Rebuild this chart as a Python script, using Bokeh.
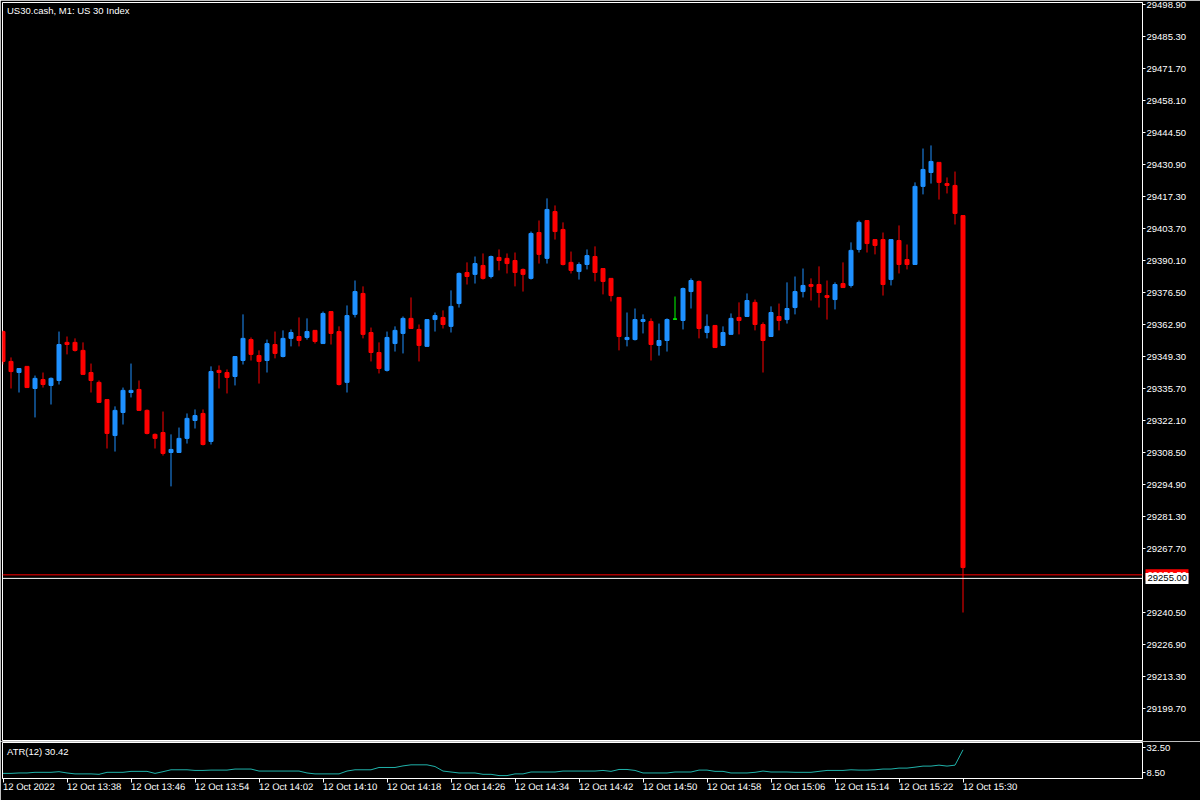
import numpy as np
import pandas as pd
from bokeh.plotting import figure
from bokeh.layouts import column
from bokeh.models import (Range1d, FixedTicker, PrintfTickFormatter, CustomJSTickFormatter,
                          Label, ColumnDataSource, Span)
from bokeh.core.properties import value
from bokeh.embed import file_html
from bokeh.resources import INLINE

# ---------------- data (US30.cash, M1, 12 Oct 2022 13:30 - 15:30) ----------------
opens = [29359.9, 29347.2, 29342.5, 29345.1, 29335.7, 29339.5, 29337.0, 29339.1, 29355.3, 29355.3,
         29351.9, 29342.5, 29338.3, 29331.0, 29315.7, 29325.5, 29334.0, 29335.3, 29326.4, 29316.2,
         29317.0, 29308.5, 29308.5, 29314.5, 29322.1, 29325.1, 29313.2, 29343.4, 29342.5, 29340.8,
         29347.6, 29356.5, 29349.7, 29347.6, 29354.4, 29349.3, 29357.0, 29357.8, 29357.4, 29360.4,
         29354.8, 29368.4, 29359.9, 29338.3, 29367.2, 29376.1, 29359.5, 29351.0, 29343.4, 29354.8,
         29359.1, 29365.5, 29360.8, 29353.6, 29365.0, 29365.9, 29362.1, 29371.8, 29385.0, 29384.2,
         29388.0, 29383.3, 29391.4, 29391.0, 29390.1, 29386.3, 29382.5, 29402.0, 29391.0, 29410.9,
         29403.3, 29389.3, 29385.4, 29388.4, 29391.8, 29386.7, 29382.5, 29374.4, 29356.5, 29356.5,
         29364.2, 29364.2, 29354.0, 29356.1, 29365.2, 29364.6, 29376.9, 29381.2, 29359.5, 29362.5,
         29354.0, 29358.7, 29365.9, 29366.3, 29372.3, 29362.9, 29357.8, 29366.3, 29365.0, 29370.1,
         29376.9, 29379.9, 29379.9, 29375.2, 29373.5, 29380.3, 29379.5, 29394.8, 29407.1, 29399.0,
         29399.0, 29382.0, 29398.6, 29390.5, 29388.4, 29421.6, 29427.5, 29431.8, 29422.8, 29422.0,
         29409.2]
highs = [29360.4, 29348.9, 29344.2, 29345.1, 29341.2, 29342.5, 29340.4, 29359.9, 29357.8, 29357.0,
         29355.3, 29346.3, 29339.1, 29331.0, 29328.1, 29336.1, 29346.3, 29339.1, 29326.8, 29316.6,
         29325.9, 29316.2, 29319.1, 29325.1, 29326.8, 29326.8, 29345.1, 29345.5, 29343.8, 29349.3,
         29367.2, 29357.4, 29351.9, 29356.5, 29359.9, 29360.4, 29360.8, 29365.9, 29365.5, 29360.4,
         29368.4, 29368.4, 29362.1, 29371.0, 29381.6, 29379.1, 29361.6, 29355.3, 29359.9, 29362.1,
         29366.3, 29374.4, 29362.9, 29365.0, 29368.0, 29368.9, 29377.4, 29385.0, 29389.3, 29391.8,
         29393.1, 29392.2, 29394.8, 29393.1, 29393.5, 29386.7, 29402.4, 29407.1, 29416.5, 29413.5,
         29406.3, 29393.9, 29389.3, 29394.8, 29396.1, 29386.7, 29382.5, 29374.4, 29368.0, 29369.7,
         29367.2, 29365.5, 29363.3, 29365.5, 29374.8, 29378.6, 29382.5, 29381.6, 29367.2, 29362.5,
         29362.1, 29367.6, 29372.3, 29376.1, 29373.5, 29363.8, 29370.6, 29371.8, 29380.8, 29383.3,
         29386.7, 29382.5, 29387.6, 29381.6, 29380.8, 29389.3, 29397.8, 29407.1, 29407.1, 29399.0,
         29402.0, 29399.0, 29405.0, 29396.9, 29423.3, 29437.7, 29439.0, 29431.8, 29425.4, 29427.9,
         29409.2]
lows = [29345.9, 29335.7, 29334.0, 29336.1, 29323.4, 29336.1, 29328.9, 29337.4, 29350.2, 29351.4,
        29341.7, 29334.0, 29329.8, 29310.2, 29308.9, 29320.4, 29331.9, 29326.4, 29316.2, 29310.2,
        29307.2, 29294.1, 29308.5, 29312.3, 29318.7, 29311.5, 29311.9, 29335.7, 29333.6, 29337.0,
        29345.9, 29347.6, 29337.8, 29342.5, 29348.5, 29348.9, 29353.6, 29353.6, 29356.5, 29354.8,
        29354.8, 29354.4, 29337.0, 29334.0, 29365.9, 29357.0, 29347.2, 29342.1, 29342.9, 29351.4,
        29350.6, 29361.2, 29347.2, 29353.6, 29359.9, 29361.2, 29359.5, 29370.1, 29379.9, 29380.3,
        29382.0, 29382.5, 29385.9, 29384.6, 29379.1, 29376.9, 29382.0, 29388.8, 29388.8, 29399.0,
        29388.0, 29384.6, 29382.0, 29386.3, 29381.2, 29375.7, 29372.7, 29351.9, 29353.6, 29356.1,
        29359.1, 29347.6, 29349.7, 29351.4, 29365.0, 29360.8, 29369.7, 29357.0, 29357.0, 29353.1,
        29354.0, 29358.7, 29358.7, 29366.3, 29360.4, 29342.5, 29357.8, 29360.4, 29363.3, 29367.2,
        29374.4, 29373.1, 29370.1, 29365.0, 29369.3, 29378.6, 29378.6, 29393.5, 29393.5, 29392.7,
        29375.2, 29379.5, 29384.6, 29386.3, 29388.4, 29418.2, 29422.8, 29416.0, 29418.6, 29405.4,
        29240.5]
closes = [29347.2, 29342.9, 29344.2, 29336.1, 29340.0, 29337.4, 29340.0, 29354.4, 29354.4, 29351.9,
          29341.7, 29339.1, 29329.8, 29316.6, 29326.4, 29334.9, 29334.9, 29326.4, 29316.6, 29314.5,
          29308.1, 29309.8, 29314.5, 29323.0, 29324.2, 29311.9, 29342.9, 29342.5, 29340.4, 29349.3,
          29357.0, 29350.2, 29347.2, 29354.8, 29350.6, 29357.0, 29359.5, 29356.1, 29359.9, 29355.7,
          29367.6, 29359.1, 29337.4, 29366.7, 29376.9, 29358.7, 29351.0, 29344.2, 29357.4, 29360.4,
          29365.5, 29361.2, 29354.0, 29365.0, 29366.7, 29362.9, 29370.6, 29384.6, 29383.3, 29388.8,
          29382.5, 29391.8, 29390.1, 29388.8, 29385.0, 29384.2, 29401.6, 29392.7, 29411.8, 29402.4,
          29388.4, 29385.9, 29388.4, 29392.2, 29385.0, 29381.2, 29375.2, 29357.8, 29357.4, 29365.0,
          29365.0, 29354.4, 29356.1, 29365.0, 29365.2, 29378.2, 29381.6, 29361.2, 29362.1, 29353.1,
          29359.5, 29365.5, 29364.6, 29373.1, 29362.9, 29356.1, 29368.0, 29364.6, 29369.7, 29376.9,
          29379.5, 29379.1, 29376.5, 29374.4, 29379.9, 29378.6, 29394.4, 29406.3, 29397.3, 29396.5,
          29379.9, 29399.0, 29388.4, 29388.4, 29421.6, 29428.8, 29432.2, 29423.3, 29422.0, 29410.1,
          29259.6]
atr = [8.1, 8.1, 8.5, 8.5, 9.1, 9.1, 9.1, 9.7, 8.5, 7.6,
       7.6, 7.6, 7.2, 9.1, 9.1, 9.1, 10.0, 10.0, 10.0, 8.1,
       9.7, 11.5, 11.5, 11.5, 10.9, 10.9, 11.2, 11.2, 11.2, 12.2,
       12.2, 12.2, 10.3, 10.3, 10.3, 10.3, 10.3, 10.3, 8.5, 7.6,
       7.6, 7.6, 7.6, 10.3, 11.5, 11.5, 11.5, 13.7, 13.7, 13.7,
       15.2, 16.2, 16.2, 16.2, 14.6, 10.3, 9.4, 8.5, 8.5, 8.5,
       7.2, 7.2, 6.0, 6.0, 7.6, 7.6, 9.4, 9.4, 9.4, 9.4,
       10.3, 10.3, 10.3, 10.3, 10.3, 10.9, 10.0, 11.8, 11.8, 10.9,
       8.5, 8.5, 8.5, 8.5, 9.4, 9.4, 9.4, 11.2, 11.2, 10.0,
       10.0, 8.5, 8.5, 8.5, 9.1, 10.3, 9.4, 9.4, 9.4, 9.1,
       9.1, 9.1, 10.0, 10.9, 10.9, 10.9, 11.5, 11.2, 11.2, 11.5,
       12.2, 12.2, 13.1, 13.1, 14.0, 15.0, 15.0, 15.9, 15.0, 15.9,
       30.42]
price_ticks = [29498.90, 29485.30, 29471.70, 29458.10, 29444.50, 29430.90, 29417.30, 29403.70,
               29390.10, 29376.50, 29362.90, 29349.30, 29335.70, 29322.10, 29308.50, 29294.90,
               29281.30, 29267.70, 29240.50, 29226.90, 29213.30, 29199.70]
atr_ticks = [8.50, 32.50]
time_tick_labels = ["12 Oct 2022", "12 Oct 13:38", "12 Oct 13:46", "12 Oct 13:54", "12 Oct 14:02",
                    "12 Oct 14:10", "12 Oct 14:18", "12 Oct 14:26", "12 Oct 14:34", "12 Oct 14:42",
                    "12 Oct 14:50", "12 Oct 14:58", "12 Oct 15:06", "12 Oct 15:14", "12 Oct 15:22",
                    "12 Oct 15:30"]
red_line_price = 29256.50
white_line_price = 29255.00
title_text = "US30.cash, M1:  US 30 Index"
atr_period = 12

# ---------------- styling ----------------
BLUE, RED, GREEN, ATR_COLOR = "#1E90FF", "#FF0000", "#00FF00", "#20B2AA"
FONT, FS = "Liberation Sans", "9.5px"
W = 1200
FRAME_L, FRAME_R = 2, 1142
BAR_PX = 8.0
MAIN_H = 741
MAIN_TOP, MAIN_BOT = 2, 740
ATR_TOP, ATR_BOT = 742, 779
PRICE_LO, PRICE_HI = 29186.1, 29499.75
ATR_LO, ATR_HI = 3.24, 37.39
TAG_W, TAG_H = 43, 11

n = len(opens)
times = pd.date_range("2022-10-12 13:30", periods=n, freq="1min")
x = np.arange(n)
o, h, l, c = (np.array(v, dtype=float) for v in (opens, highs, lows, closes))
colors = np.where(c > o, BLUE, np.where(c < o, RED, GREEN))
src = ColumnDataSource(dict(x=x, o=o, h=h, l=l, c=c, top=np.maximum(o, c),
                            bottom=np.minimum(o, c), color=colors))

X0 = -0.0625
X1 = X0 + (FRAME_R - FRAME_L) / BAR_PX
xr = Range1d(X0, X1)


def xdata(px):
    return X0 + (px - FRAME_L) / BAR_PX


def ydata(py):
    return PRICE_HI - (py - MAIN_TOP) * (PRICE_HI - PRICE_LO) / (MAIN_BOT - MAIN_TOP)


def adata(py):
    return ATR_HI - (py - ATR_TOP) * (ATR_HI - ATR_LO) / (ATR_BOT - ATR_TOP)


def style_axis(ax, tick_out):
    ax.axis_line_color = "white"
    ax.major_tick_line_color = "white"
    ax.minor_tick_line_color = None
    ax.major_tick_out = tick_out
    ax.major_tick_in = 0
    ax.major_label_text_color = "white"
    ax.major_label_text_font = FONT
    ax.major_label_text_font_size = FS


# ---------------- main price panel ----------------
p = figure(width=W, height=MAIN_H, x_range=xr, y_range=Range1d(PRICE_LO, PRICE_HI),
           output_backend="svg", toolbar_location=None, tools="",
           x_axis_location=None, y_axis_location="right",
           min_border_left=FRAME_L, min_border_right=W - FRAME_R,
           min_border_top=MAIN_TOP, min_border_bottom=MAIN_H - MAIN_BOT,
           background_fill_color="black", border_fill_color="black",
           outline_line_color="white")
p.grid.visible = False
yax = p.yaxis[0]
yax.ticker = FixedTicker(ticks=price_ticks)
yax.formatter = PrintfTickFormatter(format="%.2f")
style_axis(yax, 3)
yax.major_label_standoff = 1

p.segment(x0="x", y0="l", x1="x", y1="h", source=src, line_color="color", line_width=1)
p.vbar(x="x", width=4 / BAR_PX, top="top", bottom="bottom", source=src,
       fill_color="color", line_color="color", line_width=1)

p.add_layout(Span(location=red_line_price, dimension="width", line_color=RED, line_width=1))
p.add_layout(Span(location=white_line_price, dimension="width", line_color="white", line_width=1))

p.add_layout(Label(x=xdata(6.5), y=ydata(9.5), text=title_text, text_color="white",
                   text_font=FONT, text_font_size=FS, text_baseline="middle", text_align="left"))

# ---------------- ATR panel ----------------
p2 = figure(width=W, height=800 - MAIN_H, x_range=xr, y_range=Range1d(ATR_LO, ATR_HI),
            output_backend="svg", toolbar_location=None, tools="",
            x_axis_location="below", y_axis_location="right",
            min_border_left=FRAME_L, min_border_right=W - FRAME_R,
            min_border_top=ATR_TOP - MAIN_H, min_border_bottom=800 - ATR_BOT,
            background_fill_color="black", border_fill_color="black",
            outline_line_color="white")
p2.grid.visible = False
ay = p2.yaxis[0]
ay.ticker = FixedTicker(ticks=atr_ticks)
ay.formatter = PrintfTickFormatter(format="%.2f")
style_axis(ay, 3)
ay.major_label_standoff = 1

tick_idx = [i for i, t in enumerate(times) if (t - times[0]).seconds // 60 % 8 == 0]
ax = p2.xaxis[0]
ax.ticker = FixedTicker(ticks=tick_idx)
ax.formatter = CustomJSTickFormatter(args=dict(tpos=tick_idx, tlab=time_tick_labels),
                                     code="const k = tpos.indexOf(tick); return k >= 0 ? tlab[k] : '';")
style_axis(ax, 4)
ax.major_label_standoff = 4
ax.major_label_orientation = -0.0005   # tiny negative angle -> labels start at their tick

p2.line(x=x, y=atr, line_color=ATR_COLOR, line_width=1)

p2.add_layout(Label(x=xdata(6.5), y=adata(751.5), text=f"ATR({atr_period}) {atr[-1]:.2f}",
                    text_color="white", text_font=FONT, text_font_size=FS,
                    text_baseline="middle", text_align="left"))

layout = column(p, p2, spacing=0)

# ---------------- transparent overlay (own root): current-price tags on the price scale ----------------
tags = figure(width=W, height=MAIN_H, x_range=Range1d(0, W),
              y_range=Range1d(ydata(MAIN_H), ydata(0)),
              output_backend="svg", toolbar_location=None, tools="",
              x_axis_location=None, y_axis_location=None,
              min_border_left=0, min_border_right=0, min_border_top=0, min_border_bottom=0,
              background_fill_color=None, border_fill_color=None, outline_line_color=None,
              styles={"position": "absolute", "left": "0px", "top": "0px"})
tags.grid.visible = False
tag_x = FRAME_R + 3
for price, fill, txt_col in ((red_line_price, RED, "white"), (white_line_price, "white", "black")):
    tags.rect(x=[tag_x + TAG_W / 2], y=[price], width=TAG_W, height=TAG_H, height_units="screen",
              fill_color=fill, line_color=None)
    tags.text(x=[tag_x + 2], y=[price], text=[f"{price:.2f}"], text_color=txt_col,
              text_font=value(FONT), text_font_size=value(FS),
              text_baseline="middle", text_align="left")

html = file_html([layout, tags], INLINE, title="US30.cash M1")
open("out.html", "w").write(html)
